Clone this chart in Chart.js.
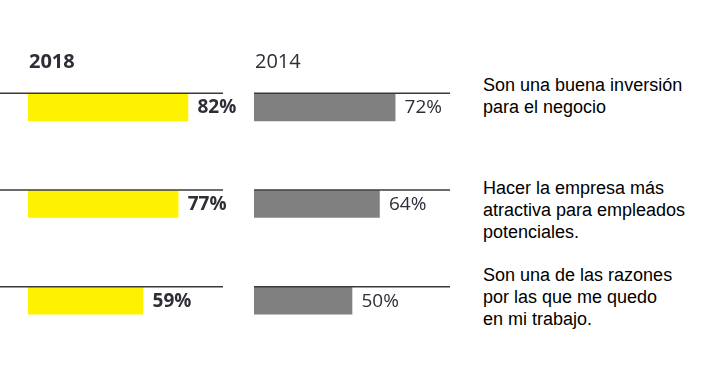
<!DOCTYPE html>
<html>
<head>
<meta charset="utf-8">
<script src="https://cdn.jsdelivr.net/npm/chart.js@4"></script>
<style>
  html, body { margin: 0; padding: 0; background: #ffffff; }
  #wrap { position: relative; width: 704px; height: 367px; overflow: hidden; background: #fff; }
  canvas { position: absolute; top: 0; }
  #cA { left: 0; }
  #cB { left: 240px; }
  .lbl { position: absolute; left: 483px; font-family: "Liberation Sans", Arial, sans-serif; font-size: 18px; line-height: 22px; color: #000; white-space: nowrap; }
</style>
</head>
<body>
<div id="wrap">
  <canvas id="cA" width="240" height="367"></canvas>
  <canvas id="cB" width="240" height="367"></canvas>
</div>
<script>
// ---- data ----
const categories = [
  "Son una buena inversión para el negocio",
  "Hacer la empresa más atractiva para empleados potenciales.",
  "Son una de las razones por las que me quedo en mi trabajo."
];
const categoryLines = [
  ["Son una buena inversión", "para el negocio"],
  ["Hacer la empresa más", "atractiva para empleados", "potenciales."],
  ["Son una de las razones", "por las que me quedo", "en mi trabajo."]
];
const years = ["2018", "2014"];
const values2018 = [82, 77, 59];
const values2014 = [72, 64, 50];

// ---- category labels (HTML text) ----
const labelTops = [74, 177, 264];
const wrap = document.getElementById("wrap");
categoryLines.forEach((lines, i) => {
  const d = document.createElement("div");
  d.className = "lbl";
  d.style.top = labelTops[i] + "px";
  d.innerHTML = lines.join("<br>");
  wrap.appendChild(d);
});

function decorPlugin(opts) {
  return {
    id: "decor",
    afterDatasetsDraw(chart) {
      const ctx = chart.ctx;
      const xs = chart.scales.x;
      const meta = chart.getDatasetMeta(0);
      const data = chart.data.datasets[0].data;
      ctx.save();
      // title
      ctx.fillStyle = opts.titleColor;
      ctx.font = opts.titleFont;
      ctx.textAlign = "left";
      ctx.textBaseline = "middle";
      ctx.fillText(opts.title, xs.getPixelForValue(0) + 1, 62);
      meta.data.forEach((bar, i) => {
        const top = bar.y - bar.height / 2;
        // rule line above bar
        ctx.strokeStyle = "#3a3a3a";
        ctx.lineWidth = 1.5;
        ctx.beginPath();
        const x0 = opts.lineStartPx !== undefined ? opts.lineStartPx : xs.getPixelForValue(0);
        ctx.moveTo(x0, top - 0.5);
        ctx.lineTo(xs.getPixelForValue(100), top - 0.5);
        ctx.stroke();
        // value label
        ctx.fillStyle = opts.valueColor;
        ctx.font = opts.valueFont;
        ctx.textBaseline = "middle";
        ctx.fillText(data[i] + "%", bar.x + 9.5, bar.y + 0.5);
      });
      ctx.restore();
    }
  };
}

function makeChart(id, values, color, pad, opts) {
  return new Chart(document.getElementById(id), {
    type: "bar",
    data: {
      labels: categories,
      datasets: [{ data: values, backgroundColor: color, borderWidth: 0, barThickness: 27 }]
    },
    options: {
      indexAxis: "y",
      responsive: false,
      animation: false,
      layout: { padding: pad },
      scales: {
        x: { display: false, min: 0, max: 100 },
        y: { display: false }
      },
      plugins: { legend: { display: false }, tooltip: { enabled: false } }
    },
    plugins: [decorPlugin(opts)]
  });
}

makeChart("cA", values2018, "#fff200", { left: 28, right: 17, top: 59, bottom: 18 }, {
  title: years[0], titleFont: "bold 20px 'Open Sans'", titleColor: "#2e2e38",
  valueFont: "bold 19px 'Open Sans'", valueColor: "#2e2e38", lineStartPx: 0
});
makeChart("cB", values2014, "#808080", { left: 14, right: 30, top: 59, bottom: 18 }, {
  title: years[1], titleFont: "20px 'Open Sans'", titleColor: "#2e2e38",
  valueFont: "19px 'Open Sans'", valueColor: "#2e2e38"
});
</script>
</body>
</html>
